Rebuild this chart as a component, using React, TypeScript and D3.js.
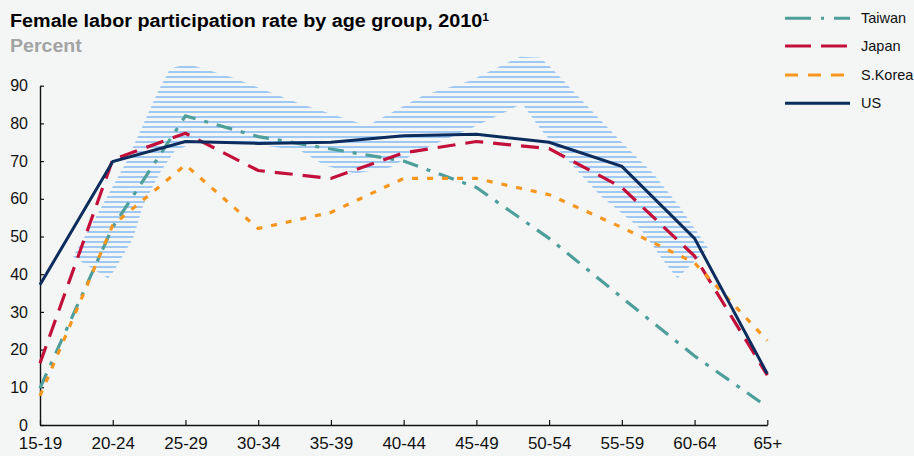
import { useEffect, useRef } from 'react'
import * as d3 from 'd3'

const ageGroups = ['15-19', '20-24', '25-29', '30-34', '35-39', '40-44', '45-49', '50-54', '55-59', '60-64', '65+']
const yTicks = [0, 10, 20, 30, 40, 50, 60, 70, 80, 90]

const taiwan = [9.8, 52.5, 82, 76.5, 73.2, 70, 63, 49.5, 33.8, 18.3, 4.8]
const japan = [16.4, 70.4, 77.4, 67.5, 65.4, 72.2, 75.2, 73.3, 63, 44.8, 13.2]
const korea = [7.7, 53, 69, 52.1, 56.4, 65.4, 65.4, 61.1, 52.4, 43, 22.4]
const us = [37.2, 69.9, 75.2, 74.7, 75, 76.7, 77.1, 75, 68.6, 49.5, 13.6]

// hatched highlight outline, [category index, percent]
const bandOutline: [number, number][] = [
  [0.935, 38.9], [0.454, 44.7], [0.688, 52.4], [1.197, 70.1], [1.609, 87.9],
  [1.788, 94.5], [2.022, 95.8], [2.655, 92.1], [3.576, 85.2], [4.498, 79.4],
  [5.268, 87.4], [5.915, 91.3], [6.603, 97.7], [6.878, 97.4], [7.043, 94.5],
  [7.387, 87.4], [7.978, 75.4], [8.432, 66.7], [8.803, 57.7], [9.188, 46.9],
  [8.762, 38.9], [8.569, 43.7], [8.253, 52.1], [7.703, 60.9], [7.194, 71.5],
  [6.878, 78.6], [6.63, 85.2], [5.915, 78.6], [5.227, 72.8], [4.814, 68.3],
  [4.333, 66.7], [3.92, 68.8], [3.576, 72.8], [2.889, 74.6], [2.201, 75.4],
  [1.857, 72.8], [1.651, 67.0], [1.417, 58.2], [1.279, 49.5], [1.004, 40.5],
]

const seriesNames = ['Taiwan', 'Japan', 'S.Korea', 'US']
const seriesData = [taiwan, japan, korea, us]
const colors = ['#4e9f9b', '#c2103a', '#f7961f', '#0b2c5c']
const dashes = ['16,9,4,9', '18,10', '6,9', null]
const legendDashes = ['26,10,3,10,20', '26,10', '13,10', null]

const FONT = '"Liberation Sans", Arial, sans-serif'

export default function App() {
  const ref = useRef<SVGSVGElement>(null)

  useEffect(() => {
    document.body.style.margin = '0'
    const width = 914,
      height = 456
    const svg = d3.select(ref.current)
    svg.selectAll('*').remove()
    svg.attr('width', width).attr('height', height)

    svg.append('rect').attr('width', width).attr('height', height).attr('fill', '#f4f6f6')

    const x = d3.scaleLinear().domain([0, ageGroups.length - 1]).range([40, 767.3])
    const y = d3.scaleLinear().domain([0, 90]).range([425, 85.7])

    const defs = svg.append('defs')
    const pat = defs
      .append('pattern')
      .attr('id', 'hatch')
      .attr('patternUnits', 'userSpaceOnUse')
      .attr('width', 10)
      .attr('height', 5)
    pat.append('rect').attr('y', 1).attr('width', 10).attr('height', 2).attr('fill', '#9fc8f3')

    // band
    const bandLine = d3
      .line<[number, number]>()
      .x((d) => x(d[0]))
      .y((d) => y(d[1]))
      .curve(d3.curveLinearClosed)
    svg.append('path').attr('d', bandLine(bandOutline)).attr('fill', 'url(#hatch)')

    // axes
    const xAxis = d3
      .axisBottom(x)
      .tickValues(d3.range(ageGroups.length))
      .tickFormat((d) => ageGroups[d as number])
      .tickSizeInner(-5)
      .tickSizeOuter(0)
      .tickPadding(12)
    const gx = svg.append('g').attr('transform', 'translate(0,425)').call(xAxis)
    gx.select('.domain').attr('stroke', '#111').attr('stroke-width', 1.4)
    gx.selectAll('.tick line').attr('stroke', '#111').attr('stroke-width', 1.2)
    gx.selectAll('.tick text')
      .attr('font-family', FONT)
      .attr('font-size', 17)
      .attr('fill', '#111')

    const yAxis = d3.axisLeft(y).tickValues(yTicks).tickSizeInner(-4).tickSizeOuter(0).tickPadding(12)
    const gy = svg.append('g').attr('transform', 'translate(40,0)').call(yAxis)
    gy.select('.domain').attr('stroke', '#111').attr('stroke-width', 1.4)
    gy.selectAll('.tick line').attr('stroke', '#111').attr('stroke-width', 1.2)
    gy.selectAll('.tick text')
      .attr('font-family', FONT)
      .attr('font-size', 16)
      .attr('fill', '#111')

    // lines
    const line = d3
      .line<number>()
      .x((_, i) => x(i))
      .y((d) => y(d))
    seriesData.forEach((s, i) => {
      svg
        .append('path')
        .attr('d', line(s))
        .attr('fill', 'none')
        .attr('stroke', colors[i])
        .attr('stroke-width', i === 3 ? 3 : 3.2)
        .attr('stroke-dasharray', dashes[i])
        .attr('stroke-linejoin', 'miter')
    })

    // title (source font is a little wider than Arial)
    const title = svg
      .append('text')
      .attr('transform', 'translate(10,27) scale(1.13,1)')
      .attr('font-family', FONT)
      .attr('font-weight', 'bold')
      .attr('font-size', 17.5)
      .attr('fill', '#000')
    title.append('tspan').text('Female labor participation rate by age group, 2010')
    title.append('tspan').attr('font-size', 10.5).attr('dy', -6).text('1')

    svg
      .append('text')
      .attr('transform', 'translate(10,52) scale(1.12,1)')
      .attr('font-family', FONT)
      .attr('font-weight', 'bold')
      .attr('font-size', 17.5)
      .attr('fill', '#a3a3a3')
      .text('Percent')

    // legend
    const legendY = [18.3, 46, 75, 103.3]
    seriesNames.forEach((name, i) => {
      svg
        .append('line')
        .attr('x1', 785)
        .attr('x2', 850)
        .attr('y1', legendY[i])
        .attr('y2', legendY[i])
        .attr('stroke', colors[i])
        .attr('stroke-width', 3)
        .attr('stroke-dasharray', legendDashes[i])
      svg
        .append('text')
        .attr('x', 861)
        .attr('y', legendY[i] + 5)
        .attr('font-family', FONT)
        .attr('font-size', 14.5)
        .attr('fill', '#111')
        .text(name)
    })
  }, [])

  return <svg ref={ref} style={{ display: 'block' }}></svg>
}
